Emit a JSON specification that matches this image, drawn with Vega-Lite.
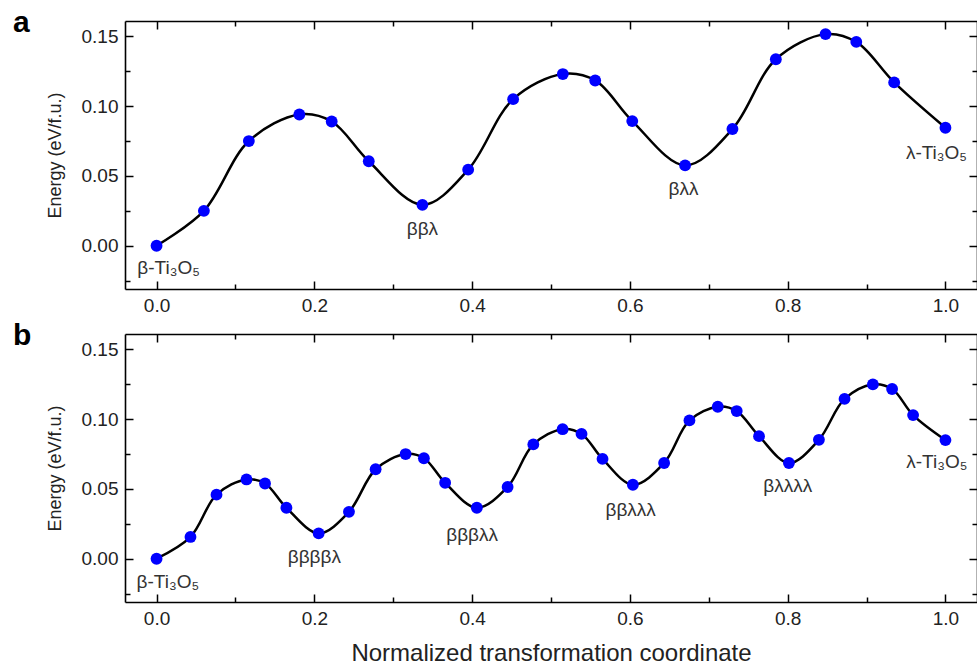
{
  "$schema": "https://vega.github.io/schema/vega-lite/v6.json",
  "padding": {"left": 13, "top": 8, "right": 0, "bottom": 0},
  "spacing": 6,
  "config": {
    "font": "Liberation Sans",
    "view": {"stroke": null},
    "axis": {
      "domainColor": "#000", "domainWidth": 1.6, "tickColor": "#000", "tickWidth": 1.5,
      "grid": false, "labelFont": "Liberation Sans", "labelFontSize": 19, "labelColor": "#222",
      "titleFont": "Liberation Sans", "titleColor": "#222", "titleFontWeight": "normal"
    }
  },
  "datasets": {
    "a_pts": [
      {"x": 0, "y": 0}, {"x": 0.06, "y": 0.025}, {"x": 0.117, "y": 0.075}, {"x": 0.181, "y": 0.094},
      {"x": 0.222, "y": 0.089}, {"x": 0.269, "y": 0.0605}, {"x": 0.337, "y": 0.0293}, {"x": 0.395, "y": 0.0545},
      {"x": 0.452, "y": 0.105}, {"x": 0.515, "y": 0.123}, {"x": 0.556, "y": 0.1184}, {"x": 0.603, "y": 0.0893},
      {"x": 0.67, "y": 0.0576}, {"x": 0.73, "y": 0.0836}, {"x": 0.785, "y": 0.1336}, {"x": 0.848, "y": 0.1516},
      {"x": 0.887, "y": 0.146}, {"x": 0.935, "y": 0.117}, {"x": 1.0, "y": 0.0845}
    ],
    "b_pts": [
      {"x": 0, "y": 0}, {"x": 0.043, "y": 0.0156}, {"x": 0.076, "y": 0.0459}, {"x": 0.114, "y": 0.0568},
      {"x": 0.1375, "y": 0.0539}, {"x": 0.1646, "y": 0.0365}, {"x": 0.2055, "y": 0.0182}, {"x": 0.2439, "y": 0.0336},
      {"x": 0.2777, "y": 0.0641}, {"x": 0.3157, "y": 0.075}, {"x": 0.3389, "y": 0.072}, {"x": 0.3658, "y": 0.0544},
      {"x": 0.406, "y": 0.0365}, {"x": 0.445, "y": 0.0514}, {"x": 0.4776, "y": 0.0819}, {"x": 0.5147, "y": 0.0928},
      {"x": 0.5387, "y": 0.0894}, {"x": 0.5653, "y": 0.0715}, {"x": 0.6038, "y": 0.053}, {"x": 0.6434, "y": 0.0686},
      {"x": 0.6755, "y": 0.0991}, {"x": 0.7114, "y": 0.1089}, {"x": 0.7354, "y": 0.1058}, {"x": 0.7637, "y": 0.0878},
      {"x": 0.8016, "y": 0.0686}, {"x": 0.8396, "y": 0.0852}, {"x": 0.8721, "y": 0.1145}, {"x": 0.908, "y": 0.1249},
      {"x": 0.9324, "y": 0.1216}, {"x": 0.959, "y": 0.1029}, {"x": 1.0, "y": 0.085}
    ],
    "a_lbl": [
      {"x": 0.0152, "y": -0.0157, "label": "β-Ti₃O₅"},
      {"x": 0.337, "y": 0.0121, "label": "ββλ"},
      {"x": 0.668, "y": 0.0407, "label": "βλλ"},
      {"x": 0.9886, "y": 0.0664, "label": "λ-Ti₃O₅"}
    ],
    "b_lbl": [
      {"x": 0.0143, "y": -0.0168, "label": "β-Ti₃O₅"},
      {"x": 0.2, "y": 0.001, "label": "ββββλ"},
      {"x": 0.4, "y": 0.017, "label": "βββλλ"},
      {"x": 0.601, "y": 0.0348, "label": "ββλλλ"},
      {"x": 0.8, "y": 0.0518, "label": "βλλλλ"},
      {"x": 0.989, "y": 0.0696, "label": "λ-Ti₃O₅"}
    ]
  },
  "vconcat": [
    {
      "width": 852, "height": 268,
      "title": {"text": "a", "anchor": "start", "frame": "group", "dx": -112, "dy": 42, "offset": 0, "baseline": "alphabetic", "fontSize": 30, "fontWeight": "bold", "color": "#000", "font": "Liberation Sans"},
      "layer": [
        {
          "data": {"name": "a_pts"},
          "mark": {"type": "line", "interpolate": "catmull-rom", "color": "#000", "strokeWidth": 2.5},
          "encoding": {
            "x": {"field": "x", "type": "quantitative", "scale": {"domain": [-0.04, 1.04], "nice": false, "zero": false},
              "axis": {"orient": "bottom", "title": null, "values": [0, 0.1, 0.2, 0.3, 0.4, 0.5, 0.6, 0.7, 0.8, 0.9, 1.0],
                "labelExpr": "abs(datum.value*5 - round(datum.value*5)) < 0.001 ? format(datum.value, '.1f') : ''",
                "tickSize": {"condition": {"test": "abs(datum.value*5 - round(datum.value*5)) < 0.001", "value": -8}, "value": -5},
                "labelPadding": 15}},
            "y": {"field": "y", "type": "quantitative", "scale": {"domain": [-0.031, 0.161], "nice": false, "zero": false},
              "axis": {"orient": "left", "title": "Energy (eV/f.u.)", "titleFontSize": 18, "titlePadding": 17,
                "values": [-0.025, 0, 0.025, 0.05, 0.075, 0.1, 0.125, 0.15],
                "labelExpr": "abs(datum.value*20 - round(datum.value*20)) < 0.001 ? format(datum.value, '.2f') : ''",
                "tickSize": {"condition": {"test": "abs(datum.value*20 - round(datum.value*20)) < 0.001", "value": -8}, "value": -5},
                "labelPadding": 15}}
          }
        },
        {
          "data": {"name": "a_pts"},
          "mark": {"type": "circle", "size": 140, "color": "#0000ff", "opacity": 1},
          "encoding": {
            "x": {"field": "x", "type": "quantitative",
              "axis": {"orient": "top", "title": null, "labels": false, "values": [0, 0.1, 0.2, 0.3, 0.4, 0.5, 0.6, 0.7, 0.8, 0.9, 1.0],
                "tickSize": {"condition": {"test": "abs(datum.value*5 - round(datum.value*5)) < 0.001", "value": -8}, "value": -5}}},
            "y": {"field": "y", "type": "quantitative",
              "axis": {"orient": "right", "title": null, "labels": false, "values": [-0.025, 0, 0.025, 0.05, 0.075, 0.1, 0.125, 0.15],
                "tickSize": {"condition": {"test": "abs(datum.value*20 - round(datum.value*20)) < 0.001", "value": -8}, "value": -5}}}
          }
        },
        {
          "data": {"name": "a_lbl"},
          "mark": {"type": "text", "fontSize": 19, "color": "#333", "align": "center", "baseline": "middle", "font": "Liberation Sans"},
          "encoding": {
            "x": {"field": "x", "type": "quantitative", "axis": null},
            "y": {"field": "y", "type": "quantitative", "axis": null},
            "text": {"field": "label"}
          }
        }
      ],
      "resolve": {"axis": {"x": "independent", "y": "independent"}}
    },
    {
      "width": 852, "height": 268,
      "title": {"text": "b", "anchor": "start", "frame": "group", "dx": -112, "dy": 42, "offset": 0, "baseline": "alphabetic", "fontSize": 30, "fontWeight": "bold", "color": "#000", "font": "Liberation Sans"},
      "layer": [
        {
          "data": {"name": "b_pts"},
          "mark": {"type": "line", "interpolate": "catmull-rom", "color": "#000", "strokeWidth": 2.5},
          "encoding": {
            "x": {"field": "x", "type": "quantitative", "scale": {"domain": [-0.04, 1.04], "nice": false, "zero": false},
              "axis": {"orient": "bottom", "title": "Normalized transformation coordinate", "titleFontSize": 24, "titlePadding": 13,
                "values": [0, 0.1, 0.2, 0.3, 0.4, 0.5, 0.6, 0.7, 0.8, 0.9, 1.0],
                "labelExpr": "abs(datum.value*5 - round(datum.value*5)) < 0.001 ? format(datum.value, '.1f') : ''",
                "tickSize": {"condition": {"test": "abs(datum.value*5 - round(datum.value*5)) < 0.001", "value": -8}, "value": -5},
                "labelPadding": 15}},
            "y": {"field": "y", "type": "quantitative", "scale": {"domain": [-0.031, 0.161], "nice": false, "zero": false},
              "axis": {"orient": "left", "title": "Energy (eV/f.u.)", "titleFontSize": 18, "titlePadding": 17,
                "values": [-0.025, 0, 0.025, 0.05, 0.075, 0.1, 0.125, 0.15],
                "labelExpr": "abs(datum.value*20 - round(datum.value*20)) < 0.001 ? format(datum.value, '.2f') : ''",
                "tickSize": {"condition": {"test": "abs(datum.value*20 - round(datum.value*20)) < 0.001", "value": -8}, "value": -5},
                "labelPadding": 15}}
          }
        },
        {
          "data": {"name": "b_pts"},
          "mark": {"type": "circle", "size": 140, "color": "#0000ff", "opacity": 1},
          "encoding": {
            "x": {"field": "x", "type": "quantitative",
              "axis": {"orient": "top", "title": null, "labels": false, "values": [0, 0.1, 0.2, 0.3, 0.4, 0.5, 0.6, 0.7, 0.8, 0.9, 1.0],
                "tickSize": {"condition": {"test": "abs(datum.value*5 - round(datum.value*5)) < 0.001", "value": -8}, "value": -5}}},
            "y": {"field": "y", "type": "quantitative",
              "axis": {"orient": "right", "title": null, "labels": false, "values": [-0.025, 0, 0.025, 0.05, 0.075, 0.1, 0.125, 0.15],
                "tickSize": {"condition": {"test": "abs(datum.value*20 - round(datum.value*20)) < 0.001", "value": -8}, "value": -5}}}
          }
        },
        {
          "data": {"name": "b_lbl"},
          "mark": {"type": "text", "fontSize": 19, "color": "#333", "align": "center", "baseline": "middle", "font": "Liberation Sans"},
          "encoding": {
            "x": {"field": "x", "type": "quantitative", "axis": null},
            "y": {"field": "y", "type": "quantitative", "axis": null},
            "text": {"field": "label"}
          }
        }
      ],
      "resolve": {"axis": {"x": "independent", "y": "independent"}}
    }
  ]
}
